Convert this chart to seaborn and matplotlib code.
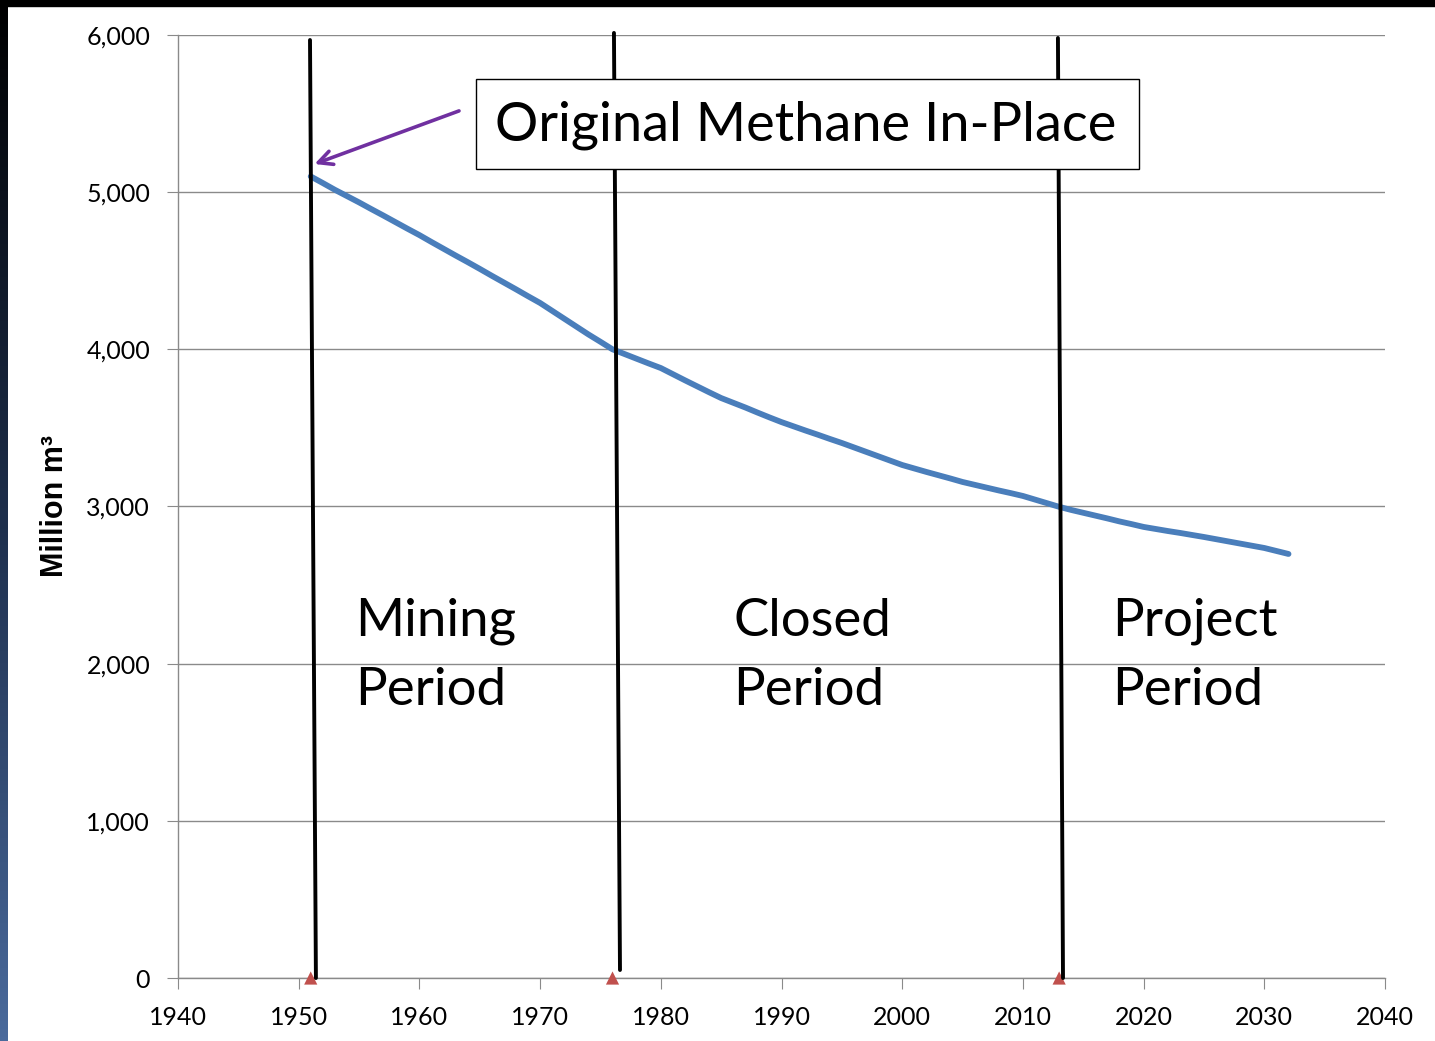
import numpy as np
import pandas as pd
import matplotlib.pyplot as plt
import seaborn as sns
from matplotlib.patches import Rectangle
from matplotlib.colors import LinearSegmentedColormap

# remaining methane in place, million m3
years = list(range(1951, 2033))
methane = [5100, 5058, 5015, 4975, 4935, 4893, 4852, 4810, 4768, 4727,
           4683, 4640, 4597, 4555, 4512, 4468, 4425, 4382, 4338, 4295,
           4245, 4195, 4145, 4095, 4048, 4000, 3970, 3940, 3910, 3881,
           3842, 3803, 3765, 3727, 3690, 3660, 3630, 3598, 3567, 3537,
           3510, 3483, 3457, 3430, 3404, 3376, 3348, 3320, 3292, 3264,
           3242, 3220, 3199, 3178, 3156, 3138, 3120, 3102, 3085, 3067,
           3044, 3021, 2998, 2978, 2960, 2942, 2924, 2905, 2888, 2870,
           2857, 2844, 2832, 2819, 2806, 2792, 2778, 2764, 2750, 2736,
           2717, 2698]

period_starts = [1951, 1976, 2013]
period_names = ['Mining\nPeriod', 'Closed\nPeriod', 'Project\nPeriod']
x_ticks = list(range(1940, 2041, 10))
y_ticks = list(range(0, 6001, 1000))

df = pd.DataFrame({'year': years, 'methane': methane})
markers = pd.DataFrame({'year': period_starts, 'zero': [0] * len(period_starts)})

sns.set_style('white')
plt.rcParams['font.family'] = ['Lato', 'DejaVu Sans']
plt.rcParams['text.color'] = 'black'
plt.rcParams['axes.labelcolor'] = 'black'

fig = plt.figure(figsize=(14.35, 10.41), dpi=100)
ax = fig.add_axes([0.124, 0.0605, 0.8412, 0.9059])

# slide background strips
grad = fig.add_axes([0, 0, 8 / 1435, 1], zorder=-1)
grad.imshow(np.linspace(0, 1, 256).reshape(-1, 1), aspect='auto',
            cmap=LinearSegmentedColormap.from_list('bg', ['#000000', '#1e2f4c', '#4a6a9c']),
            extent=[0, 1, 0, 1], origin='upper')
grad.axis('off')
fig.patches.append(Rectangle((0, 1 - 6 / 1041), 1, 6 / 1041, transform=fig.transFigure,
                             color='black', zorder=-1))

sns.lineplot(data=df, x='year', y='methane', color='#4a7ebb', lw=4.2, ax=ax, zorder=3)
sns.scatterplot(data=markers, x='year', y='zero', marker='^', color='#c0504d', s=90,
                edgecolor='none', ax=ax, zorder=4, clip_on=False)

ax.set_xlim(1940, 2040)
ax.set_ylim(0, 6000)
ax.set_xticks(x_ticks)
ax.set_yticks(y_ticks)
ax.set_yticklabels([f'{v:,}' for v in y_ticks])
ax.grid(axis='y', color='#8a8a8a', lw=1)
ax.set_axisbelow(True)
for s in ['top', 'right']:
    ax.spines[s].set_visible(False)
for s in ['left', 'bottom']:
    ax.spines[s].set_color('#8a8a8a')
    ax.spines[s].set_linewidth(1)
ax.tick_params(axis='both', which='both', length=8, color='#8a8a8a', labelsize=18,
               labelcolor='black', direction='out', bottom=True, left=True)
ax.tick_params(axis='x', pad=12)
ax.tick_params(axis='y', pad=12)
ax.set_xlabel('')
ax.set_ylabel('Million m³', fontsize=22, fontweight='bold', family='Liberation Sans',
              color='black', labelpad=12)

# slightly tilted period boundary lines
tops = [(1950.94, 5968), (1976.12, 6013), (2012.9, 5981)]
bottoms = [(1951.43, 0), (1976.62, 51), (2013.32, 0)]
for (x0, y0), (x1, y1) in zip(tops, bottoms):
    ax.plot([x0, x1], [y0, y1], color='black', lw=2.8, zorder=5, clip_on=False)

text_x = [1954.7, 1986.0, 2017.4]
for x, name in zip(text_x, period_names):
    ax.text(x, 2420, name, fontsize=38, va='top', ha='left', linespacing=1.58,
            color='black', zorder=6)

ax.add_patch(Rectangle((1964.69, 5147), 54.93, 573, facecolor='white', edgecolor='black',
                       lw=1, zorder=6, clip_on=False))
ax.text(1992.0, 5425, 'Original Methane In-Place', fontsize=39, ha='center', va='center',
        color='black', zorder=7)

ax.annotate('', xy=(1951.1, 5173), xytext=(1963.5, 5523),
            arrowprops=dict(arrowstyle='->', color='#7030a0', lw=2.6, mutation_scale=25), zorder=7)

fig.savefig('out.png', dpi=100)
